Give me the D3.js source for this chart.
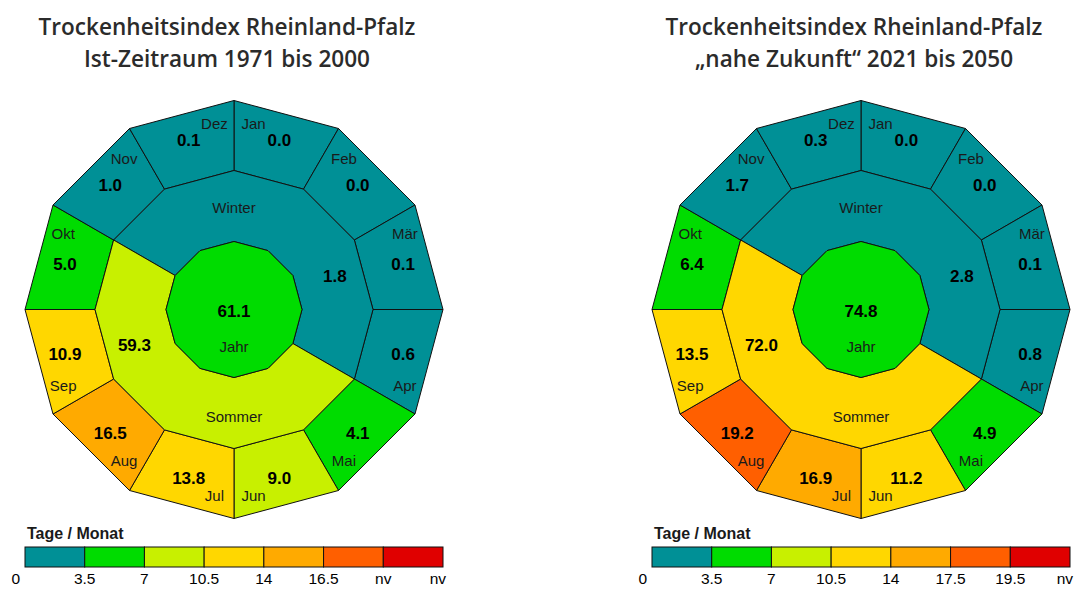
<!DOCTYPE html>
<html>
<head>
<meta charset="UTF-8">
<script src="https://d3js.org/d3.v7.min.js"></script>
<style>
  body { margin: 0; background: #fff; }
  svg text { font-family: "Liberation Sans", Arial, sans-serif; }
</style>
</head>
<body>
<div id="chart"></div>
<script>
// months run clockwise from the top, Jan first
const months = ["Jan", "Feb", "Mär", "Apr", "Mai", "Jun", "Jul", "Aug", "Sep", "Okt", "Nov", "Dez"];
const istValues = [0.0, 0.0, 0.1, 0.6, 4.1, 9.0, 13.8, 16.5, 10.9, 5.0, 1.0, 0.1];
const zukunftValues = [0.0, 0.0, 0.1, 0.8, 4.9, 11.2, 16.9, 19.2, 13.5, 6.4, 1.7, 0.3];

const halfYears = ["Winter", "Sommer"];
const istHalf = [1.8, 59.3];
const zukunftHalf = [2.8, 72.0];
const istYear = 61.1;
const zukunftYear = 74.8;

const classColors = ["#009096", "#00dc00", "#c8f000", "#ffd700", "#ffaa00", "#ff5f00", "#e00000"];
const istThresholds = [3.5, 7, 10.5, 14, 16.5];
const istTicks = ["0", "3.5", "7", "10.5", "14", "16.5", "nv", "nv"];
const zukunftThresholds = [3.5, 7, 10.5, 14, 17.5, 19.5];
const zukunftTicks = ["0", "3.5", "7", "10.5", "14", "17.5", "19.5", "nv"];

const width = 1075, height = 590;
const rOuter = 209, rMid = 139, rInner = 68;

const svg = d3.select("#chart").append("svg")
    .attr("width", width)
    .attr("height", height);

// month index -> angle (clockwise from top)
const angle = d3.scaleLinear().domain([0, 12]).range([0, 2 * Math.PI]);

function drawPanel(cx, cy, title, values, half, year, thresholds, ticks) {
    const g = svg.append("g");
    const pt = (i, r) => [cx + r * Math.sin(angle(i)), cy - r * Math.cos(angle(i))];
    const color = v => classColors[d3.bisectLeft(thresholds, v)];
    const line = d3.line();

    // title
    const titles = g.selectAll("text.title")
        .data(title)
        .enter().append("text")
        .attr("class", "title")
        .attr("x", cx - 7)
        .attr("y", (d, i) => 35 + i * 32)
        .attr("text-anchor", "middle")
        .style("font-family", "'Open Sans', sans-serif")
        .style("font-weight", 600)
        .style("font-size", "22px")
        .style("fill", "#2b2b2b")
        .text(d => d);
    // first line is about 377px wide in the original
    const w0 = titles.node().getComputedTextLength();
    titles.style("font-size", (22 * 377 / w0) + "px");

    // month ring
    g.selectAll("path.month")
        .data(values)
        .enter().append("path")
        .attr("class", "month")
        .attr("d", (d, i) => line([pt(i, rOuter), pt(i + 1, rOuter), pt(i + 1, rMid), pt(i, rMid)]) + "Z")
        .attr("fill", d => color(d))
        .attr("stroke", "#111")
        .attr("stroke-width", 1);

    // half-year ring: Winter Nov-Apr (10..16), Sommer Mai-Okt (4..10)
    const spans = [[10, 16], [4, 10]];
    g.selectAll("path.half")
        .data(half)
        .enter().append("path")
        .attr("class", "half")
        .attr("d", (d, k) => {
            const [a, b] = spans[k];
            const outer = d3.range(a, b + 1).map(i => pt(i, rMid));
            const inner = d3.range(b, a - 1, -1).map(i => pt(i, rInner));
            return line(outer.concat(inner)) + "Z";
        })
        .attr("fill", d => color(d / 6))
        .attr("stroke", "#111")
        .attr("stroke-width", 1);

    // year
    g.append("path")
        .attr("d", line(d3.range(12).map(i => pt(i, rInner))) + "Z")
        .attr("fill", color(year / 12))
        .attr("stroke", "#111")
        .attr("stroke-width", 1);

    // month labels
    months.forEach((m, i) => {
        const mid = i + 0.5;
        const sign = Math.floor(mid / 3) % 2 === 0 ? -1 : 1;
        const pv = pt(mid, 175);
        const pn = pt(mid + sign * 0.3, 187);
        g.append("text")
            .attr("x", pn[0]).attr("y", pn[1])
            .attr("text-anchor", "middle").attr("dominant-baseline", "central")
            .style("font-size", "15px").style("fill", "#1a1a1a")
            .text(m);
        g.append("text")
            .attr("x", pv[0]).attr("y", pv[1])
            .attr("text-anchor", "middle").attr("dominant-baseline", "central")
            .style("font-size", "17px").style("font-weight", "bold")
            .text(values[i].toFixed(1));
    });

    // half-year labels
    const nameAt = [pt(0, 102), pt(6, 107)];
    const valAt = [pt(2.4, 106), pt(8.33, 106)];
    halfYears.forEach((h, k) => {
        g.append("text")
            .attr("x", nameAt[k][0]).attr("y", nameAt[k][1])
            .attr("text-anchor", "middle").attr("dominant-baseline", "central")
            .style("font-size", "15px").style("fill", "#1a1a1a")
            .text(h);
        g.append("text")
            .attr("x", valAt[k][0]).attr("y", valAt[k][1])
            .attr("text-anchor", "middle").attr("dominant-baseline", "central")
            .style("font-size", "17px").style("font-weight", "bold")
            .text(half[k].toFixed(1));
    });

    g.append("text")
        .attr("x", cx).attr("y", cy + 2)
        .attr("text-anchor", "middle").attr("dominant-baseline", "central")
        .style("font-size", "17px").style("font-weight", "bold")
        .text(year.toFixed(1));
    g.append("text")
        .attr("x", cx).attr("y", cy + 37)
        .attr("text-anchor", "middle").attr("dominant-baseline", "central")
        .style("font-size", "15px").style("fill", "#1a1a1a")
        .text("Jahr");

    // legend
    const lx = d3.scaleLinear().domain([0, 7]).range([cx - rOuter, cx + rOuter]);
    g.append("text")
        .attr("x", lx(0) + 2).attr("y", 539)
        .style("font-size", "16px").style("font-weight", "bold").style("fill", "#1a1a1a")
        .text("Tage / Monat");
    g.selectAll("rect.legend")
        .data(classColors)
        .enter().append("rect")
        .attr("class", "legend")
        .attr("x", (d, i) => lx(i))
        .attr("y", 547)
        .attr("width", lx(1) - lx(0))
        .attr("height", 20)
        .attr("fill", d => d)
        .attr("stroke", "#111")
        .attr("stroke-width", 1);
    g.selectAll("text.tick")
        .data(ticks)
        .enter().append("text")
        .attr("class", "tick")
        .attr("x", (d, i) => i === 0 ? lx(0) - 5 : i === 7 ? lx(7) + 3 : lx(i))
        .attr("y", 584)
        .attr("text-anchor", (d, i) => i === 0 || i === 7 ? "end" : "middle")
        .style("font-size", "15.5px")
        .text(d => d);
}

drawPanel(234, 309.5, ["Trockenheitsindex Rheinland-Pfalz", "Ist-Zeitraum 1971 bis 2000"],
    istValues, istHalf, istYear, istThresholds, istTicks);
drawPanel(861, 309.5, ["Trockenheitsindex Rheinland-Pfalz", "\u201Enahe Zukunft\u201C 2021 bis 2050"],
    zukunftValues, zukunftHalf, zukunftYear, zukunftThresholds, zukunftTicks);
</script>
</body>
</html>
